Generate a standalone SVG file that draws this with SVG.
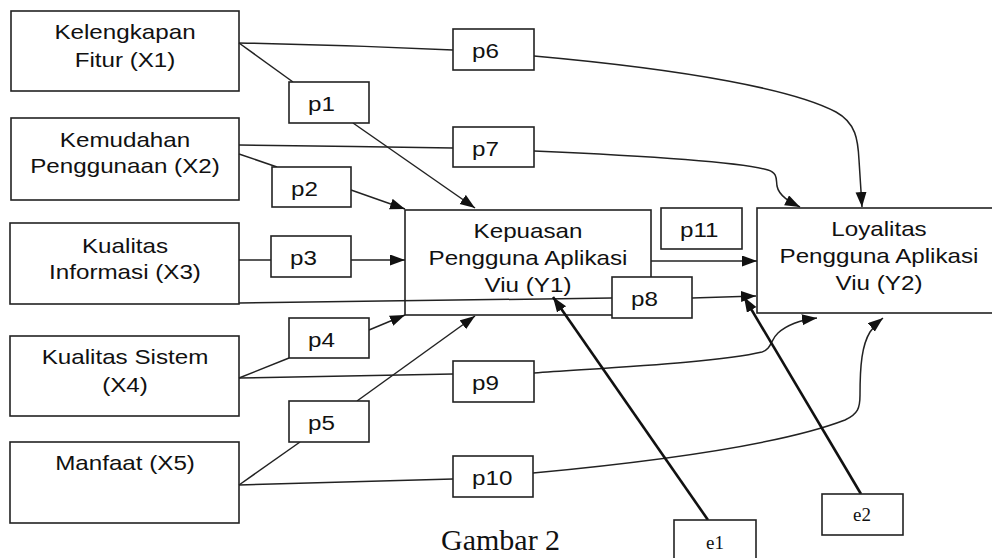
<svg xmlns="http://www.w3.org/2000/svg" width="992" height="558" viewBox="0 0 992 558">
<style>
.box{fill:#fff;stroke:#222;stroke-width:1.6}
.t{font-family:"Liberation Sans",Arial,sans-serif;font-size:20.5px;fill:#111;text-anchor:middle}
.pl{font-family:"Liberation Sans",Arial,sans-serif;font-size:20.5px;fill:#111;text-anchor:start}
.e{font-family:"Liberation Serif","Times New Roman",serif;font-size:19px;fill:#111;text-anchor:middle}
.cap{font-family:"Liberation Serif","Times New Roman",serif;font-size:30px;fill:#111}
.c{fill:none;stroke:#222;stroke-width:1.5}
.ca{fill:none;stroke:#222;stroke-width:1.5;marker-end:url(#ah)}
.ct{fill:none;stroke:#111;stroke-width:2.6;marker-end:url(#ah)}
</style>
<defs>
<marker id="ah" markerUnits="userSpaceOnUse" markerWidth="16" markerHeight="12" refX="15" refY="5.5" orient="auto">
<path d="M0,0 L15,5.5 L0,11 z" fill="#111"/>
</marker>
</defs>
<rect width="992" height="558" fill="#fff"/>
<g id="X1"><rect class="box" x="11" y="11" width="228" height="80"/><text class="t" transform="translate(125,39) scale(1.18,1)"><tspan x="0">Kelengkapan</tspan><tspan x="0" dy="28">Fitur (X1)</tspan></text></g>
<g id="X2"><rect class="box" x="11" y="118" width="228" height="82"/><text class="t" transform="translate(125,146.5) scale(1.18,1)"><tspan x="0">Kemudahan</tspan><tspan x="0" dy="27">Penggunaan (X2)</tspan></text></g>
<g id="X3"><rect class="box" x="10" y="223" width="229" height="81"/><text class="t" transform="translate(125,252.5) scale(1.18,1)"><tspan x="0">Kualitas</tspan><tspan x="0" dy="27">Informasi (X3)</tspan></text></g>
<g id="X4"><rect class="box" x="10" y="336" width="229" height="80"/><text class="t" transform="translate(125,364) scale(1.18,1)"><tspan x="0">Kualitas Sistem</tspan><tspan x="0" dy="28">(X4)</tspan></text></g>
<g id="X5"><rect class="box" x="10" y="442" width="229" height="81"/><text class="t" transform="translate(125,470) scale(1.18,1)">Manfaat (X5)</text></g>
<g id="Y1"><rect class="box" x="405" y="210" width="246" height="105"/><text class="t" transform="translate(528,238) scale(1.18,1)"><tspan x="0">Kepuasan</tspan><tspan x="0" dy="27">Pengguna Aplikasi</tspan><tspan x="0" dy="27.5">Viu (Y1)</tspan></text></g>
<g id="Y2"><rect class="box" x="757" y="208" width="250" height="105"/><text class="t" transform="translate(879,236) scale(1.18,1)"><tspan x="0">Loyalitas</tspan><tspan x="0" dy="27">Pengguna Aplikasi</tspan><tspan x="0" dy="27">Viu (Y2)</tspan></text></g>
<g id="connectors">
<path class="c" d="M239,43 L293,82"/>
<path class="ca" d="M353,123 L475,208"/>
<path class="c" d="M239,43 Q346,45 453,50"/>
<path class="ca" d="M534,56 C690,70 795,90 836,112 C856,123 858,140 859,160 L862,207"/>
<path class="c" d="M239,145 Q346,146 453,148"/>
<path class="ca" d="M534,151 C650,156 740,162 768,170 C778,173 776,180 777,186 C779,196 790,202 800,207"/>
<path class="c" d="M239,154 L277,167"/>
<path class="ca" d="M351,190 L405,209"/>
<path class="c" d="M239,260 L271,260"/>
<path class="ca" d="M351,260 L405,260"/>
<path class="c" d="M239,303 L612,298"/>
<path class="ca" d="M692,298 L756,296"/>
<path class="c" d="M239,378 L289,358"/>
<path class="ca" d="M369,330 L405,315"/>
<path class="c" d="M239,378 Q346,376 453,374"/>
<path class="ca" d="M534,373 C620,367 720,362 762,352 C772,349 770,340 778,333 C788,324 800,320 817,318"/>
<path class="c" d="M239,485 L300,442"/>
<path class="ca" d="M357,401 L475,316"/>
<path class="c" d="M239,485 Q346,482 453,479"/>
<path class="ca" d="M533,473 C650,462 780,445 845,420 C858,414 860,408 860,395 C860,365 862,345 870,332 C874,326 878,322 883,318"/>
<path class="ca" d="M651,261 L757,261"/>
<path class="ct" d="M708,520 L553,297"/>
<path class="ct" d="M861,494 L744,297"/>
</g>
<g id="p1"><rect class="box" x="289" y="82" width="80" height="41"/><text class="pl" transform="translate(308,111) scale(1.18,1)">p1</text></g>
<g id="p2"><rect class="box" x="272" y="167" width="79" height="40"/><text class="pl" transform="translate(291,196) scale(1.18,1)">p2</text></g>
<g id="p3"><rect class="box" x="271" y="236" width="80" height="41"/><text class="pl" transform="translate(290,265) scale(1.18,1)">p3</text></g>
<g id="p4"><rect class="box" x="289" y="318" width="80" height="40"/><text class="pl" transform="translate(308,347) scale(1.18,1)">p4</text></g>
<g id="p5"><rect class="box" x="289" y="401" width="80" height="41"/><text class="pl" transform="translate(308,430) scale(1.18,1)">p5</text></g>
<g id="p6"><rect class="box" x="453" y="29" width="81" height="41"/><text class="pl" transform="translate(472,58) scale(1.18,1)">p6</text></g>
<g id="p7"><rect class="box" x="453" y="127" width="81" height="40"/><text class="pl" transform="translate(472,156) scale(1.18,1)">p7</text></g>
<g id="p8"><rect class="box" x="612" y="277" width="80" height="41"/><text class="pl" transform="translate(631,306) scale(1.18,1)">p8</text></g>
<g id="p9"><rect class="box" x="453" y="361" width="81" height="41"/><text class="pl" transform="translate(472,390) scale(1.18,1)">p9</text></g>
<g id="p10"><rect class="box" x="453" y="456" width="80" height="41"/><text class="pl" transform="translate(472,485) scale(1.18,1)">p10</text></g>
<g id="p11"><rect class="box" x="661" y="208" width="81" height="41"/><text class="pl" transform="translate(680,237) scale(1.18,1)">p11</text></g>
<g id="e1"><rect class="box" x="674" y="520" width="82" height="45"/><text class="e" x="715" y="549">e1</text></g>
<g id="e2"><rect class="box" x="822" y="494" width="81" height="41"/><text class="e" x="862" y="521">e2</text></g>
<text class="cap" x="441" y="550">Gambar 2</text>
</svg>
